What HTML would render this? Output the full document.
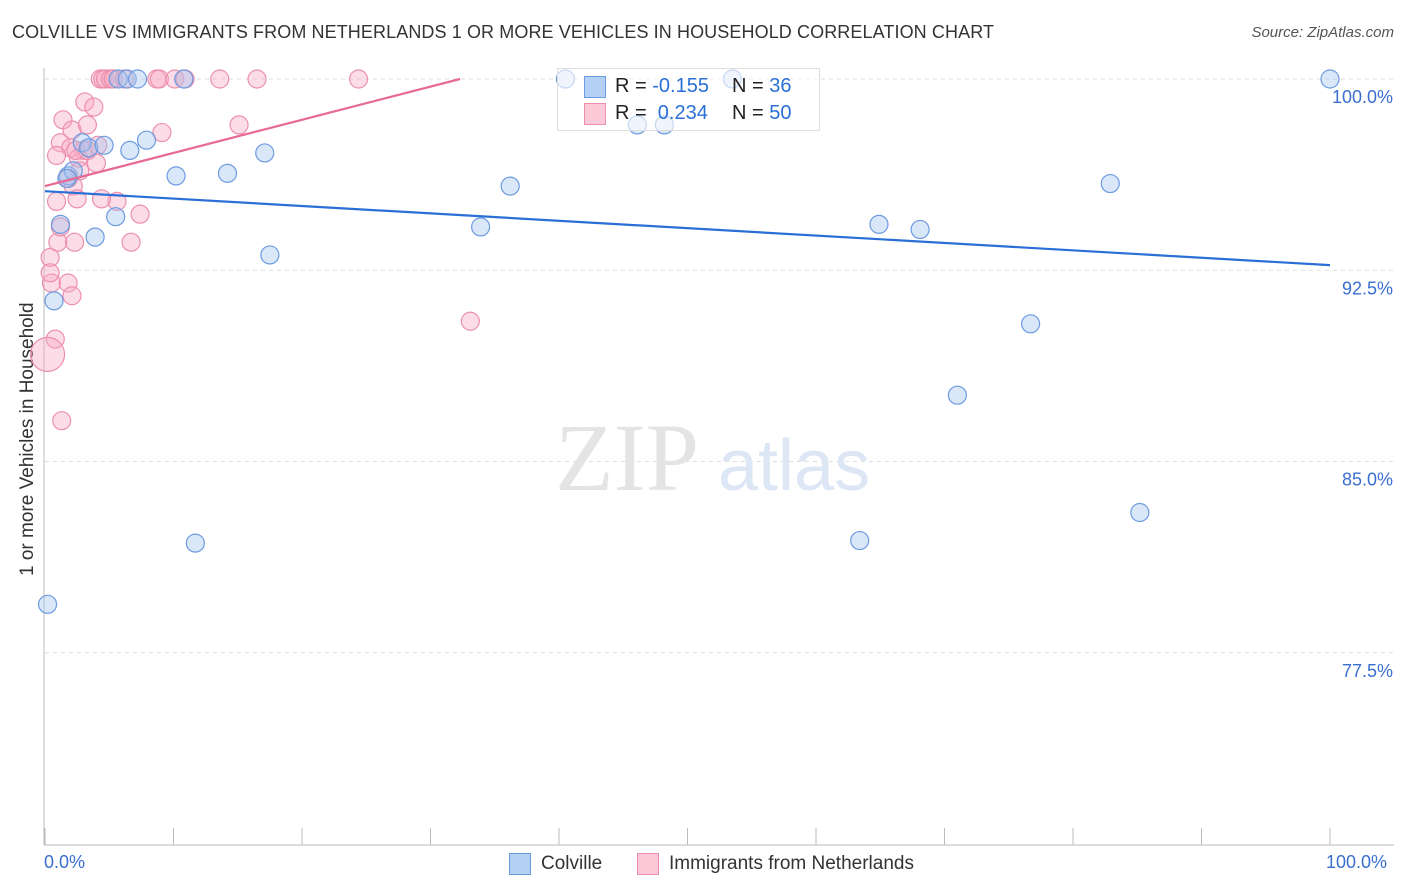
<!DOCTYPE html>
<html><head><meta charset="utf-8"><style>
body{margin:0;background:#fff;font-family:"Liberation Sans",sans-serif;}
#wrap{position:relative;width:1406px;height:892px;overflow:hidden;}
.t{position:absolute;white-space:nowrap;}
</style></head><body>
<div id="wrap">
<div class="t" style="left:12px;top:22px;font-size:18px;color:#333;letter-spacing:0.1px;">COLVILLE VS IMMIGRANTS FROM NETHERLANDS 1 OR MORE VEHICLES IN HOUSEHOLD CORRELATION CHART</div>
<div class="t" style="right:12px;top:24px;font-size:15px;color:#555;font-style:italic;">Source: ZipAtlas.com</div>
<div class="t" style="left:-92px;top:445px;transform:rotate(-90deg);font-size:19px;color:#333;width:240px;text-align:center;">1 or more Vehicles in Household</div>
<svg id="svg" width="1406" height="892" style="position:absolute;left:0;top:0"></svg>
</div>
<script>
const blueX=[0.2,0.7,1.2,1.8,2.2,2.9,3.4,3.9,4.6,5.5,5.7,6.4,6.6,7.2,7.9,10.2,10.8,11.7,14.2,17.1,17.5,33.9,36.2,40.5,46.1,48.2,53.5,63.4,64.9,68.1,71.0,76.7,82.9,85.2,100.0,1.7];
const blueY=[79.4,91.3,94.3,96.2,96.4,97.5,97.3,93.8,97.4,94.6,100,100,97.2,100,97.6,96.2,100,81.8,96.3,97.1,93.1,94.2,95.8,100,98.2,98.2,100,81.9,94.3,94.1,87.6,90.4,95.9,83.0,100,96.1];
const pinkX=[1.3,0.8,0.2,0.5,0.4,0.4,0.9,1.0,1.2,1.8,2.1,2.3,2.2,1.4,2.1,1.2,2.0,3.3,3.1,3.8,3.0,4.1,4.0,2.6,2.4,2.7,5.6,7.4,6.7,9.1,15.1,33.1,4.3,4.5,4.7,5.1,5.3,6.2,8.7,8.9,10.1,10.9,13.6,16.5,24.4,1.8,2.5,3.3,4.4,0.9];
const pinkY=[86.6,89.8,89.2,92.0,93.0,92.4,95.2,93.6,94.2,92.0,91.5,93.6,95.8,98.4,98.0,97.5,97.3,98.2,99.1,98.9,97.2,97.4,96.7,96.9,97.2,96.4,95.2,94.7,93.6,97.9,98.2,90.5,100,100,100,100,100,100,100,100,100,100,100,100,100,96.1,95.3,97.2,95.3,97.0];
const blueTrend=[95.6,92.7], pinkTrend=[95.8,100];
const yTicks=[100,92.5,85,77.5], yTickLabels=["100.0%","92.5%","85.0%","77.5%"];
const NS="http://www.w3.org/2000/svg", svg=document.getElementById('svg');
const X=v=>45+v*12.85, Y=v=>79+(100-v)*25.5;
function mk(tag,a){const e=document.createElementNS(NS,tag);for(const k in a)e.setAttribute(k,a[k]);svg.appendChild(e);return e;}
yTicks.forEach((t,i)=>{
 const g=mk('line',{x1:45,x2:1394,y1:Y(t),y2:Y(t),stroke:'#ddd','stroke-dasharray':'4,4'});
 
 
 const tx=mk('text',{x:1393,y:Y(t)+24,'text-anchor':'end','font-size':18,fill:'#3a6fd0','font-family':'Liberation Sans'});
 tx.textContent=yTickLabels[i];
 
 
});
let ax=mk('line',{x1:44,x2:44,y1:68,y2:845,stroke:'#bbb'});
ax=mk('line',{x1:44,x2:1394,y1:845,y2:845,stroke:'#bbb'});
for(let i=0;i<=10;i++){const tk=mk('line',{x1:X(i*10),x2:X(i*10),y1:828,y2:845,stroke:'#bbb'});}
let wm=mk('text',{x:555,y:490,'font-size':96,fill:'#e4e4e4','font-family':'Liberation Serif'});wm.textContent='ZIP';
wm=mk('text',{x:718,y:490,'font-size':72,fill:'#dce6f5','font-family':'Liberation Sans'});wm.textContent='atlas';
pinkX.forEach((x,i)=>{const c=mk('circle',{cx:X(x),cy:Y(pinkY[i]),r:(i==2?17:9),fill:'rgba(248,170,195,0.4)',stroke:'#ec8fae','stroke-width':1.2});});
blueX.forEach((x,i)=>{const c=mk('circle',{cx:X(x),cy:Y(blueY[i]),r:9,fill:'rgba(160,195,240,0.4)',stroke:'#6d9be0','stroke-width':1.2});});
let tl=mk('line',{x1:X(0),y1:Y(blueTrend[0]),x2:X(100),y2:Y(blueTrend[1]),stroke:'#2a6fd6','stroke-width':2.2});
tl=mk('line',{x1:X(0),y1:Y(pinkTrend[0]),x2:X(32.3),y2:Y(pinkTrend[1]),stroke:'#e76a93','stroke-width':2.2});
</script>
<div class="t" style="left:44px;top:852px;font-size:18px;color:#3a6fd0;">0.0%</div>
<div class="t" style="left:1326px;top:852px;font-size:18px;color:#3a6fd0;">100.0%</div>
<div style="position:absolute;left:557px;top:68px;width:261px;height:61px;border:1px solid #ddd;background:rgba(255,255,255,0.6);font-size:20px;color:#222;">
<div style="position:absolute;left:26px;top:7px;width:20px;height:20px;background:#b5d0f5;border:1px solid #6d9be0;"></div>
<div class="t" style="left:57px;top:6px;">R = <span style="color:#2a6fd6">-0.155</span></div>
<div class="t" style="left:174px;top:6px;">N = <span style="color:#2a6fd6">36</span></div>
<div style="position:absolute;left:26px;top:34px;width:20px;height:20px;background:#fbc9d8;border:1px solid #ec8fae;"></div>
<div class="t" style="left:57px;top:33px;">R = <span style="color:#2a6fd6">&nbsp;0.234</span></div>
<div class="t" style="left:174px;top:33px;">N = <span style="color:#2a6fd6">50</span></div>
</div>
<div style="position:absolute;left:509px;top:853px;width:20px;height:20px;background:#b5d0f5;border:1px solid #6d9be0;"></div>
<div class="t" style="left:541px;top:853px;font-size:19px;color:#333;">Colville</div>
<div style="position:absolute;left:637px;top:853px;width:20px;height:20px;background:#fbc9d8;border:1px solid #ec8fae;"></div>
<div class="t" style="left:669px;top:853px;font-size:19px;color:#333;">Immigrants from Netherlands</div>
</body></html>
